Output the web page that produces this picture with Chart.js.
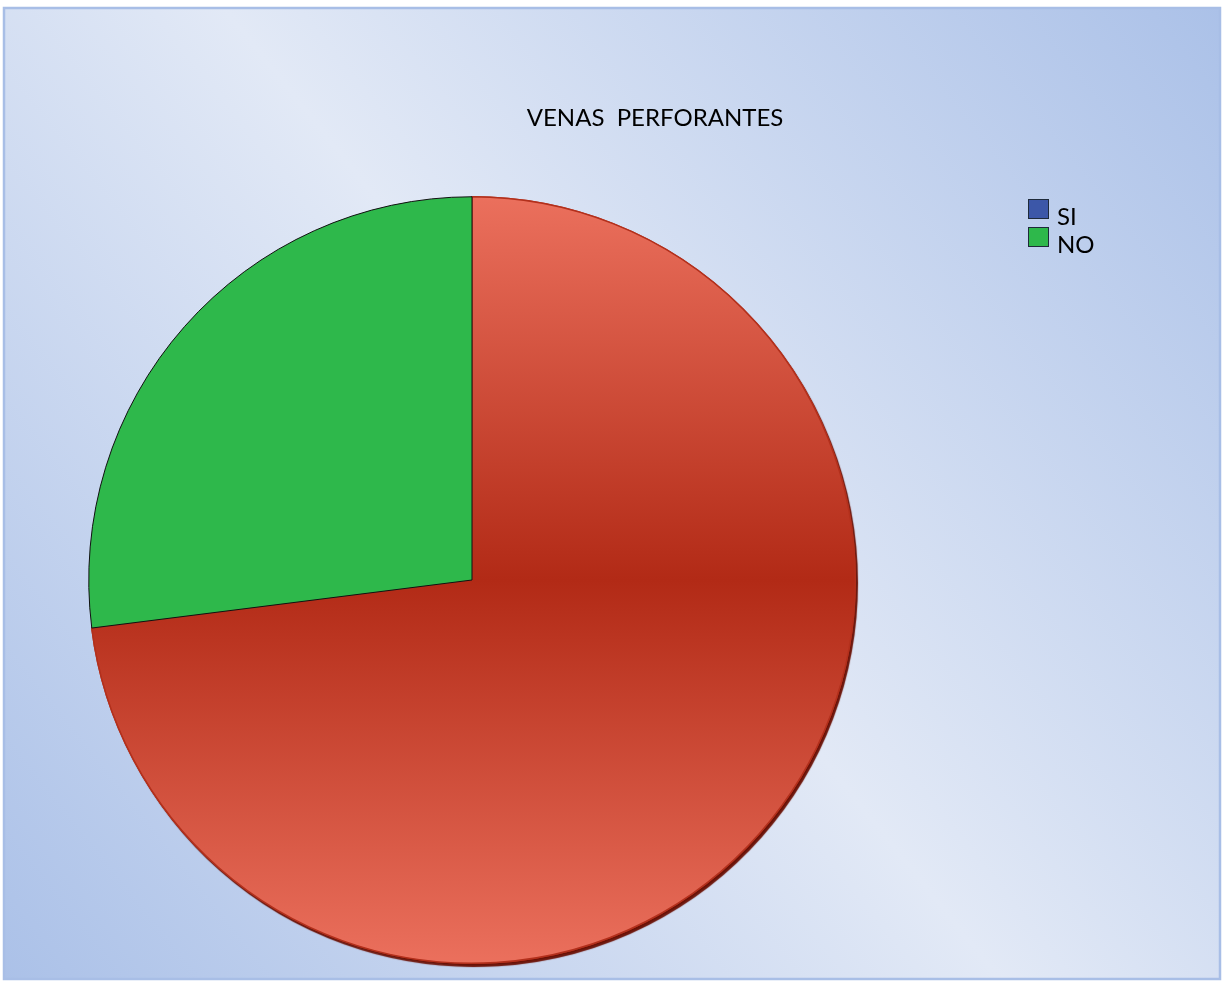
<!DOCTYPE html>
<html>
<head>
<meta charset="utf-8">
<script src="https://cdn.jsdelivr.net/npm/chart.js@4.4.1/dist/chart.umd.min.js"></script>
<style>
    body { margin: 0; background: #ffffff; }
    canvas { display: block; }
</style>
</head>
<body>
<canvas id="pieChart" width="1224" height="981"></canvas>
<script>
/* ---------------- DATA ---------------- */
const categories = ["SI", "NO"];
const values = [73, 27];
const legendColors = ["#3c57a8", "#2eb84b"];
const chartTitle = "VENAS  PERFORANTES";

const FONT = "Lato, 'Open Sans', sans-serif";

/* ---------------- PLUGINS ---------------- */

// panel background with blue corners and a thin frame
const panelPlugin = {
    id: "panel",
    beforeDraw(chart) {
        const ctx = chart.ctx;
        const w = chart.width;
        const h = chart.height;

        ctx.save();
        ctx.fillStyle = "#ffffff";
        ctx.fillRect(0, 0, w, h);

        const x0 = 4, y0 = 8, x1 = w - 4, y1 = h - 2;
        const g = ctx.createLinearGradient(x1, y0, x0, y1);
        g.addColorStop(0, "#abc1e8");
        g.addColorStop(0.5, "#e2e9f6");
        g.addColorStop(1, "#abc1e8");
        ctx.fillStyle = g;
        ctx.fillRect(x0, y0, x1 - x0, y1 - y0);

        ctx.strokeStyle = "#a8bee6";
        ctx.lineWidth = 2.5;
        ctx.strokeRect(x0, y0, x1 - x0, y1 - y0);
        ctx.restore();
    }
};

// dark rim under the big slice
const shadowPlugin = {
    id: "sliceShadow",
    beforeDatasetsDraw(chart) {
        const arc = chart.getDatasetMeta(0).data[0];
        if (!arc) return;
        const ctx = chart.ctx;
        ctx.save();
        ctx.shadowColor = "#6b1207";
        ctx.shadowOffsetX = 2;
        ctx.shadowOffsetY = 3;
        ctx.shadowBlur = 1;
        arc.draw(ctx);
        ctx.restore();
    }
};

// title and legend text
const labelsPlugin = {
    id: "labels",
    afterDraw(chart) {
        const ctx = chart.ctx;
        ctx.save();
        ctx.fillStyle = "#000000";
        ctx.font = "24px " + FONT;
        ctx.textAlign = "center";
        ctx.textBaseline = "alphabetic";
        ctx.fillText(chartTitle, 655, 126);

        ctx.textAlign = "left";
        categories.forEach((name, i) => {
            const y = 199 + i * 28;
            ctx.fillStyle = legendColors[i];
            ctx.fillRect(1028, y, 21, 20);
            ctx.strokeStyle = "#1e2a3a";
            ctx.lineWidth = 1;
            ctx.strokeRect(1028.5, y + 0.5, 20, 19);
            ctx.fillStyle = "#000000";
            ctx.fillText(name, 1057, y + 26);
        });
        ctx.restore();
    }
};

/* ---------------- CHART ---------------- */

function sliceFill(context) {
    if (context.dataIndex === 1) return "#2eb84b";
    const area = context.chart.chartArea;
    if (!area) return "#b52c18";
    const g = context.chart.ctx.createLinearGradient(0, area.top, 0, area.bottom);
    g.addColorStop(0, "#eb705d");
    g.addColorStop(0.5, "#b22a16");
    g.addColorStop(1, "#eb705d");
    return g;
}

new Chart(document.getElementById("pieChart"), {
    type: "pie",
    data: {
        labels: categories,
        datasets: [{
            data: values,
            backgroundColor: sliceFill,
            borderColor: ["#b3301c", "#111111"],
            borderWidth: [1.5, 1],
            hoverOffset: 0
        }]
    },
    options: {
        responsive: false,
        animation: false,
        layout: {
            padding: { left: 88, right: 368, top: 196, bottom: 17 }
        },
        plugins: {
            legend: { display: false },
            title: { display: false },
            tooltip: { enabled: false }
        }
    },
    plugins: [panelPlugin, shadowPlugin, labelsPlugin]
});
</script>
</body>
</html>
